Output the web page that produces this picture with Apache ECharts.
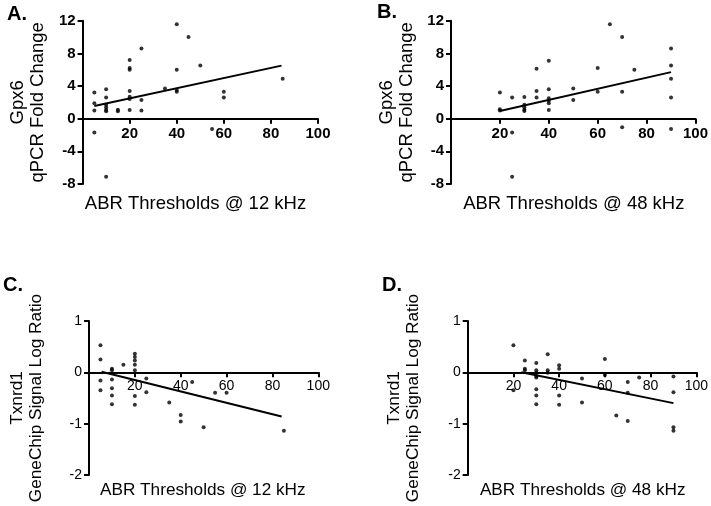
<!DOCTYPE html>
<html>
<head>
<meta charset="utf-8">
<script src="https://cdn.jsdelivr.net/npm/echarts@6/dist/echarts.min.js"></script>
<style>
html,body{margin:0;padding:0;background:#fff;overflow:hidden}
#wrap{position:relative;width:711px;height:506px}
.p{position:absolute}
#pA{left:0;top:0;width:355px;height:250px}
#pB{left:355px;top:0;width:356px;height:250px}
#pC{left:0;top:250px;width:355px;height:256px}
#pD{left:355px;top:250px;width:356px;height:256px}
</style>
</head>
<body>
<div id="wrap">
<div class="p" id="pA"></div><div class="p" id="pB"></div><div class="p" id="pC"></div><div class="p" id="pD"></div>
</div>
<script>
// Panel A: Gpx6 qPCR vs ABR @ 12 kHz
const aX = [5,5,5,5, 10,10,10,10,10,10,10, 15,15, 20,20,20,20,20,20,20, 25,25,25, 35, 40,40,40,40, 45, 50, 55, 60,60, 85];
const aY = [3.2,1.9,1.0,-1.7, 3.6,2.6,1.7,1.4,1.1,0.9,-7.1, 1.1,0.9, 7.2,6.2,6.0,3.4,2.7,2.4,1.06, 8.6,2.3,1.0, 3.7, 11.55,6.0,3.5,3.3, 10.0, 6.5, -1.26, 3.3,2.6, 4.9];
const aLineX = [5, 84.5];
const aLineY = [1.55, 6.5];
// Panel B: Gpx6 qPCR vs ABR @ 48 kHz
const bX = [20,20,20, 25,25,25, 30,30,30,30,30, 35,35,35, 40,40,40,40,40,40, 50,50, 60,60, 65, 70,70,70, 75, 90,90,90,90,90];
const bY = [3.2,1.15,1.0, 2.6,-1.7,-7.1, 2.65,1.7,1.4,1.1,0.95, 6.1,3.4,2.6, 7.1,3.6,2.5,2.2,1.9,1.06, 3.7,2.3, 6.2,3.3, 11.55, 10.0,3.3,-1.06, 6.0, 8.6,6.5,4.9,2.6,-1.26];
const bLineX = [20, 90];
const bLineY = [0.95, 5.7];
// Panel C: Txnrd1 GeneChip vs ABR @ 12 kHz
const cX = [5,5,5,5, 10,10,10,10,10,10, 15, 20,20,20,20,20,20,20, 25,25, 35, 40,40, 45, 50, 55, 60, 85];
const cY = [0.53,0.25,-0.16,-0.35, 0.07,0.04,-0.14,-0.31,-0.45,-0.62, 0.15, 0.36,0.3,0.23,0.15,0.04,-0.46,-0.63, -0.12,-0.39, -0.59, -0.83,-0.96, -0.19, -1.07, -0.40, -0.40, -1.14];
const cLineX = [5.5, 84];
const cLineY = [0.01, -0.86];
// Panel D: Txnrd1 GeneChip vs ABR @ 48 kHz
const dX = [20,20, 25,25,25, 30,30,30,30,30,30,30,30, 35,35,35, 40,40,40,40, 50,50, 60,60, 65, 70,70,70, 75, 90,90,90,90];
const dY = [0.53,-0.35, 0.23,0.07,0.04, 0.18,0.04,-0.01,-0.07,-0.1,-0.33,-0.45,-0.62, 0.35,0.04,-0.01, 0.14,0.07,-0.45,-0.63, -0.12,-0.59, 0.26,-0.05, -0.84, -0.19,-0.40,-0.95, -0.1, -0.08,-0.39,-1.07,-1.14];
const dLineX = [23.5, 90];
const dLineY = [0, -0.6];

const xTicks = {min: 0, max: 100, interval: 20};
const topY = {min: -8, max: 12, interval: 4};
const botY = {min: -2, max: 1, interval: 1};

const letterNames = ['A.', 'B.', 'C.', 'D.'];
const yNames = ['Gpx6\nqPCR Fold Change', 'Gpx6\nqPCR Fold Change', 'Txnrd1\nGeneChip Signal Log Ratio', 'Txnrd1\nGeneChip Signal Log Ratio'];
const xNames = ['ABR Thresholds @ 12 kHz', 'ABR Thresholds @ 48 kHz', 'ABR Thresholds @ 12 kHz', 'ABR Thresholds @ 48 kHz'];

const pairs = (xs, ys) => xs.map((x, i) => [x, ys[i]]);
const FONT = 'Arial, "Liberation Sans", sans-serif';

// layout of each panel (relative to its own quadrant container)
const panels = [
  {el: 'pA', top: true, grid: {left: 73, top: 20.7, width: 245, height: 163.3}, gap: 27,
   xName: [195.5, 203.5], letter: [7, 14.5], pts: pairs(aX, aY), fit: pairs(aLineX, aLineY)},
  {el: 'pB', top: true, grid: {left: 96, top: 20.7, width: 245.7, height: 163.3}, gap: 24,
   xName: [218.8, 203.5], letter: [22, 12.5], pts: pairs(bX, bY), fit: pairs(bLineX, bLineY)},
  {el: 'pC', top: false, grid: {left: 87.3, top: 71, width: 231, height: 154}, gap: 43,
   xName: [202.8, 240.5], letter: [3, 35.5], pts: pairs(cX, cY), fit: pairs(cLineX, cLineY)},
  {el: 'pD', top: false, grid: {left: 112.7, top: 71, width: 230, height: 154}, gap: 45,
   xName: [227.7, 240.5], letter: [27, 35.5], pts: pairs(dX, dY), fit: pairs(dLineX, dLineY)}
];

panels.forEach((p, i) => {
  const r = p.top ? topY : botY;
  const labelSize = p.top ? 15 : 14;
  const labelWeight = p.top ? 'bold' : 'normal';
  const titleSize = p.top ? 18.5 : 17.2;
  // shift the x axis up from the grid bottom to the y = 0 level
  const zeroOffset = -p.grid.height * (0 - r.min) / (r.max - r.min);
  const chart = echarts.init(document.getElementById(p.el), null, {renderer: 'canvas'});
  chart.setOption({
    animation: false,
    backgroundColor: '#fff',
    grid: [p.grid],
    xAxis: [{
      type: 'value', min: xTicks.min, max: xTicks.max, interval: xTicks.interval,
      position: 'bottom', offset: zeroOffset,
      splitLine: {show: false},
      axisLine: {show: true, onZero: false, lineStyle: {color: '#000', width: 2}},
      axisTick: {show: true, length: 5, lineStyle: {color: '#000', width: 2}},
      axisLabel: {
        color: '#000', fontFamily: FONT, fontSize: labelSize, fontWeight: labelWeight,
        margin: p.top ? 8 : 7,
        formatter: v => v === 0 ? '' : String(v)
      }
    }],
    yAxis: [{
      type: 'value', min: r.min, max: r.max, interval: r.interval,
      splitLine: {show: false},
      axisLine: {show: true, onZero: false, lineStyle: {color: '#000', width: 2}},
      axisTick: {show: true, length: 5, lineStyle: {color: '#000', width: 2}},
      axisLabel: {color: '#000', fontFamily: FONT, fontSize: labelSize, fontWeight: labelWeight, margin: 7},
      name: yNames[i], nameLocation: 'middle', nameRotate: 90, nameGap: p.gap,
      nameTextStyle: {color: '#000', fontFamily: FONT, fontSize: titleSize, lineHeight: p.top ? 20 : 19, align: 'center'}
    }],
    series: [
      {type: 'scatter', data: p.pts, symbol: 'circle', symbolSize: 4, itemStyle: {color: '#000'}, silent: true, clip: false, z: 3},
      {type: 'line', data: p.fit, symbol: 'none', lineStyle: {color: '#000', width: 2}, silent: true, z: 4}
    ],
    graphic: [
      {type: 'text', x: p.xName[0], y: p.xName[1], silent: true,
       style: {text: xNames[i], fill: '#000', font: titleSize + 'px ' + FONT, textAlign: 'center', textVerticalAlign: 'middle'}},
      {type: 'text', x: p.letter[0], y: p.letter[1], silent: true,
       style: {text: letterNames[i], fill: '#000', font: 'bold 20px ' + FONT, textAlign: 'left', textVerticalAlign: 'middle'}}
    ]
  });
});
</script>
</body>
</html>
